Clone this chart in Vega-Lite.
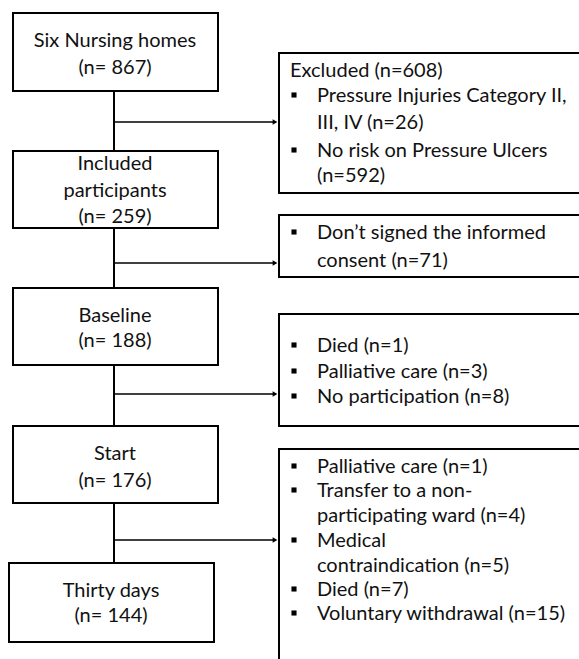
{
  "$schema": "https://vega.github.io/schema/vega-lite/v6.json",
  "width": 579,
  "height": 659,
  "autosize": {"type": "fit", "contains": "padding"},
  "padding": 0,
  "background": "white",
  "config": {"view": {"stroke": null}},
  "datasets": {
    "trunk": [
      {"x": 114, "x2": 114, "y": 91, "y2": 563}
    ],
    "arrows": [
      {"x": 114, "x2": 276, "y": 122, "y2": 122},
      {"x": 114, "x2": 276, "y": 263, "y2": 263},
      {"x": 114, "x2": 276, "y": 394, "y2": 394},
      {"x": 114, "x2": 276, "y": 540, "y2": 540}
    ],
    "heads": [
      {"x": 275, "y": 122},
      {"x": 275, "y": 263},
      {"x": 275, "y": 394},
      {"x": 275, "y": 540}
    ],
    "boxes": [
      {"x": 13, "x2": 218, "y": 13, "y2": 91},
      {"x": 13, "x2": 218, "y": 151, "y2": 228},
      {"x": 13, "x2": 218, "y": 288, "y2": 365},
      {"x": 13, "x2": 218, "y": 426, "y2": 503},
      {"x": 9, "x2": 214, "y": 563, "y2": 642},
      {"x": 279, "x2": 590, "y": 53, "y2": 193},
      {"x": 279, "x2": 590, "y": 215, "y2": 277},
      {"x": 279, "x2": 590, "y": 314, "y2": 426},
      {"x": 279, "x2": 590, "y": 449, "y2": 680}
    ],
    "centerText": [
      {"x": 115, "y": 47, "text": "Six Nursing homes"},
      {"x": 115, "y": 74, "text": "(n= 867)"},
      {"x": 115, "y": 170, "text": "Included"},
      {"x": 115, "y": 197, "text": "participants"},
      {"x": 115, "y": 223, "text": "(n= 259)"},
      {"x": 115, "y": 322, "text": "Baseline"},
      {"x": 115, "y": 347, "text": "(n= 188)"},
      {"x": 115, "y": 460, "text": "Start"},
      {"x": 115, "y": 487, "text": "(n= 176)"},
      {"x": 111, "y": 597, "text": "Thirty days"},
      {"x": 111, "y": 622, "text": "(n= 144)"}
    ],
    "leftText": [
      {"x": 290, "y": 77, "text": "Excluded (n=608)"},
      {"x": 317, "y": 102, "text": "Pressure Injuries Category II,"},
      {"x": 317, "y": 129, "text": "III, IV (n=26)"},
      {"x": 317, "y": 157, "text": "No risk on Pressure Ulcers"},
      {"x": 317, "y": 182, "text": "(n=592)"},
      {"x": 317, "y": 239, "text": "Don’t signed the informed"},
      {"x": 317, "y": 267, "text": "consent (n=71)"},
      {"x": 317, "y": 352, "text": "Died (n=1)"},
      {"x": 317, "y": 378, "text": "Palliative care (n=3)"},
      {"x": 317, "y": 403, "text": "No participation (n=8)"},
      {"x": 317, "y": 473, "text": "Palliative care (n=1)"},
      {"x": 317, "y": 497, "text": "Transfer to a non-"},
      {"x": 317, "y": 522, "text": "participating ward (n=4)"},
      {"x": 317, "y": 547, "text": "Medical"},
      {"x": 317, "y": 572, "text": "contraindication (n=5)"},
      {"x": 317, "y": 596, "text": "Died (n=7)"},
      {"x": 317, "y": 620, "text": "Voluntary withdrawal (n=15)"}
    ],
    "bullets": [
      {"x": 294, "y": 95},
      {"x": 294, "y": 150},
      {"x": 294, "y": 232},
      {"x": 294, "y": 345},
      {"x": 294, "y": 371},
      {"x": 294, "y": 396},
      {"x": 294, "y": 466},
      {"x": 294, "y": 490},
      {"x": 294, "y": 540},
      {"x": 294, "y": 589},
      {"x": 294, "y": 613}
    ]
  },
  "layer": [
    {
      "data": {"name": "trunk"},
      "mark": {"type": "rule", "color": "black", "strokeWidth": 2},
      "encoding": {
        "x": {"field": "x", "type": "quantitative", "scale": {"domain": [0, 579], "nice": false, "zero": false}, "axis": null},
        "x2": {"field": "x2"},
        "y": {"field": "y", "type": "quantitative", "scale": {"domain": [0, 659], "nice": false, "zero": false, "reverse": true}, "axis": null},
        "y2": {"field": "y2"}
      }
    },
    {
      "data": {"name": "arrows"},
      "mark": {"type": "rule", "color": "black", "strokeWidth": 1.6},
      "encoding": {
        "x": {"field": "x", "type": "quantitative", "scale": {"domain": [0, 579], "nice": false, "zero": false}, "axis": null},
        "x2": {"field": "x2"},
        "y": {"field": "y", "type": "quantitative", "scale": {"domain": [0, 659], "nice": false, "zero": false, "reverse": true}, "axis": null},
        "y2": {"field": "y2"}
      }
    },
    {
      "data": {"name": "heads"},
      "mark": {"type": "point", "shape": "triangle-right", "filled": true, "color": "black", "size": 30, "opacity": 1},
      "encoding": {
        "x": {"field": "x", "type": "quantitative", "scale": {"domain": [0, 579], "nice": false, "zero": false}, "axis": null},
        "y": {"field": "y", "type": "quantitative", "scale": {"domain": [0, 659], "nice": false, "zero": false, "reverse": true}, "axis": null}
      }
    },
    {
      "data": {"name": "boxes"},
      "mark": {"type": "rect", "fill": "white", "stroke": "black", "strokeWidth": 2, "clip": true},
      "encoding": {
        "x": {"field": "x", "type": "quantitative", "scale": {"domain": [0, 579], "nice": false, "zero": false}, "axis": null},
        "x2": {"field": "x2"},
        "y": {"field": "y", "type": "quantitative", "scale": {"domain": [0, 659], "nice": false, "zero": false, "reverse": true}, "axis": null},
        "y2": {"field": "y2"}
      }
    },
    {
      "data": {"name": "bullets"},
      "mark": {"type": "point", "shape": "square", "filled": true, "color": "black", "size": 26, "opacity": 1},
      "encoding": {
        "x": {"field": "x", "type": "quantitative", "scale": {"domain": [0, 579], "nice": false, "zero": false}, "axis": null},
        "y": {"field": "y", "type": "quantitative", "scale": {"domain": [0, 659], "nice": false, "zero": false, "reverse": true}, "axis": null}
      }
    },
    {
      "data": {"name": "centerText"},
      "mark": {"type": "text", "align": "center", "baseline": "alphabetic", "font": "Lato", "fontSize": 20, "color": "#111"},
      "encoding": {
        "x": {"field": "x", "type": "quantitative", "scale": {"domain": [0, 579], "nice": false, "zero": false}, "axis": null},
        "y": {"field": "y", "type": "quantitative", "scale": {"domain": [0, 659], "nice": false, "zero": false, "reverse": true}, "axis": null},
        "text": {"field": "text"}
      }
    },
    {
      "data": {"name": "leftText"},
      "mark": {"type": "text", "align": "left", "baseline": "alphabetic", "font": "Lato", "fontSize": 20, "color": "#111"},
      "encoding": {
        "x": {"field": "x", "type": "quantitative", "scale": {"domain": [0, 579], "nice": false, "zero": false}, "axis": null},
        "y": {"field": "y", "type": "quantitative", "scale": {"domain": [0, 659], "nice": false, "zero": false, "reverse": true}, "axis": null},
        "text": {"field": "text"}
      }
    }
  ]
}
